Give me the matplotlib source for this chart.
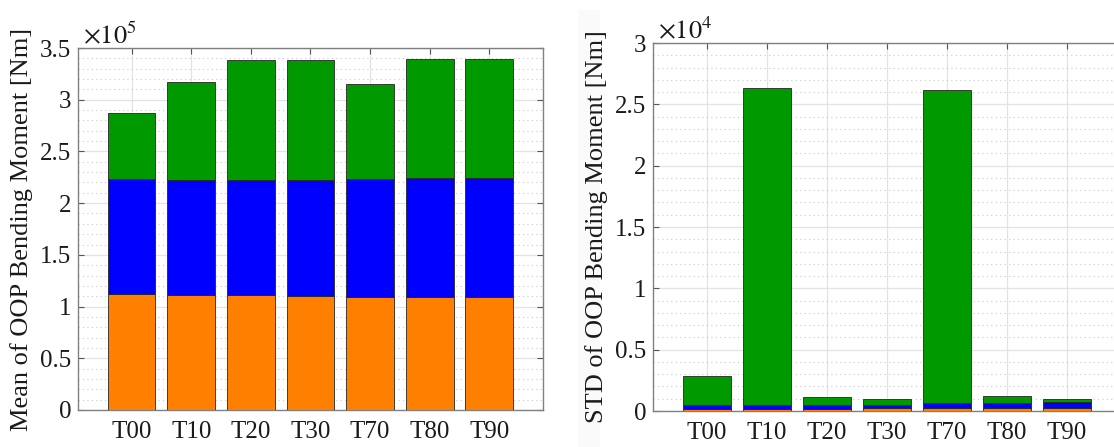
import matplotlib
matplotlib.use("Agg")
import matplotlib.pyplot as plt
import numpy as np
from matplotlib.ticker import MultipleLocator
from matplotlib.patches import Rectangle

plt.rcParams["font.family"] = ["Liberation Serif", "DejaVu Serif"]
plt.rcParams["mathtext.fontset"] = "stix"

# ---------------------------------------------------------------------------
# Data
# ---------------------------------------------------------------------------
cases = ["T00", "T10", "T20", "T30", "T70", "T80", "T90"]

# mean of OOP bending moment, x 1e5 Nm -- cumulative tops of each stack
mean_orange_top = [1.123, 1.116, 1.110, 1.103, 1.097, 1.094, 1.094]
mean_blue_top = [2.229, 2.226, 2.223, 2.219, 2.229, 2.239, 2.245]
mean_green_top = [2.868, 3.174, 3.387, 3.387, 3.148, 3.394, 3.394]

# std of OOP bending moment, x 1e4 Nm -- cumulative tops of each stack
std_orange_top = [0.019, 0.019, 0.019, 0.027, 0.026, 0.026, 0.024]
std_blue_top = [0.051, 0.046, 0.046, 0.051, 0.066, 0.067, 0.073]
std_green_top = [0.282, 2.633, 0.112, 0.098, 2.614, 0.121, 0.101]

ORANGE = "#ff8000"
BLUE = "#0000ff"
GREEN = "#009900"
EDGE = "#262626"
AX_CLR = "#808080"
TXT = "#1a1a1a"


def stacked(ax, tops_list, colors):
    x = np.arange(1, len(cases) + 1)
    prev = np.zeros(len(cases))
    for tops, clr in zip(tops_list, colors):
        tops = np.asarray(tops)
        ax.bar(x, tops - prev, bottom=prev, width=0.8, color=clr,
               edgecolor=EDGE, linewidth=0.6, zorder=3)
        prev = tops
    ax.set_xticks(x)
    ax.set_xticklabels(cases)
    ax.set_xlim(0.1, 7.9)


def style(ax, ymax, exp_txt, ylabel):
    ax.set_ylim(0, ymax)
    ax.yaxis.set_major_locator(MultipleLocator(0.5))
    ax.yaxis.set_minor_locator(MultipleLocator(0.1))
    ax.yaxis.set_major_formatter(plt.FuncFormatter(lambda v, p: f"{v:g}"))
    ax.set_axisbelow(True)
    ax.grid(True, which="major", color="#e3e3e3", linewidth=0.9, linestyle="-")
    ax.grid(True, which="minor", axis="y", color="#c8c8c8", linewidth=0.8,
            linestyle=(0, (1, 3)))
    ax.tick_params(which="both", direction="in", top=True, right=True,
                   labelsize=18, color="#555555", labelcolor=TXT)
    ax.tick_params(axis="y", pad=5)
    ax.tick_params(axis="x", pad=8)
    ax.tick_params(which="minor", length=0)
    ax.tick_params(which="major", length=4)
    for sp in ax.spines.values():
        sp.set_edgecolor(AX_CLR)
        sp.set_linewidth(1.0)
    ax.set_ylabel(ylabel, fontsize=19, labelpad=5, color=TXT)
    ax.text(0.01, 1.0, exp_txt, transform=ax.transAxes, fontsize=19,
            ha="left", va="bottom", color=TXT)


fig = plt.figure(figsize=(11.14, 4.47), dpi=100)

# faint grey backdrop strip of the second (pasted) panel, behind everything
fig.patches.append(Rectangle((578 / 1114, 0), 0.02, 437 / 447,
                             transform=fig.transFigure, facecolor="#fafafa",
                             edgecolor="none", zorder=-1))

ax_mean = fig.add_axes([0.0700, 0.0828, 0.4174, 0.8098])
ax_std = fig.add_axes([0.5862, 0.0805, 0.4201, 0.8233])

stacked(ax_mean, [mean_orange_top, mean_blue_top, mean_green_top], [ORANGE, BLUE, GREEN])
style(ax_mean, 3.5, r"$\times10^{5}$", "Mean of OOP Bending Moment [Nm]")

stacked(ax_std, [std_orange_top, std_blue_top, std_green_top], [ORANGE, BLUE, GREEN])
style(ax_std, 3.0, r"$\times10^{4}$", "STD of OOP Bending Moment [Nm]")

fig.savefig("out.png", dpi=100, facecolor="white")
